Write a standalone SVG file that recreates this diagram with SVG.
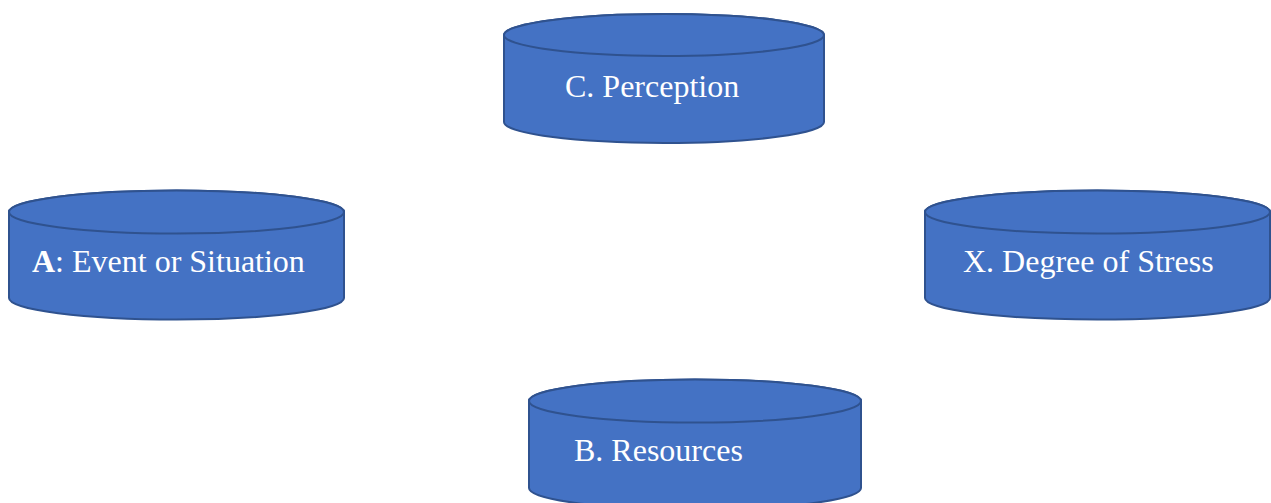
<svg xmlns="http://www.w3.org/2000/svg" width="1271" height="503" viewBox="0 0 1271 503">
<style>
.cyl{fill:#4472C4;stroke:#2F528F;stroke-width:2}
.lbl{fill:#FFFFFF;font-family:"Liberation Serif","Times New Roman",serif;font-size:32px}
</style>
<rect width="1271" height="503" fill="#FFFFFF"/>
<g id="connectors"></g>
<g id="nodeC">
<path class="cyl" d="M504,35 L504,122 A160,21 0 0 0 824,122 L824,35 A160,21 0 0 0 504,35 Z"/>
<ellipse class="cyl" cx="664" cy="35" rx="160" ry="21"/>
<text class="lbl" x="565" y="97">C. Perception</text>
</g>
<g id="nodeA">
<path class="cyl" d="M9,212 L9,298 A167.5,21.5 0 0 0 344,298 L344,212 A167.5,21.5 0 0 0 9,212 Z"/>
<ellipse class="cyl" cx="176.5" cy="212" rx="167.5" ry="21.5"/>
<text class="lbl" x="32" y="272"><tspan font-weight="bold">A</tspan>: Event or Situation</text>
</g>
<g id="nodeX">
<path class="cyl" d="M925,212 L925,298 A172.5,21.5 0 0 0 1270,298 L1270,212 A172.5,21.5 0 0 0 925,212 Z"/>
<ellipse class="cyl" cx="1097.5" cy="212" rx="172.5" ry="21.5"/>
<text class="lbl" x="963" y="272">X. Degree of Stress</text>
</g>
<g id="nodeB">
<path class="cyl" d="M529,401 L529,488 A166,21.5 0 0 0 861,488 L861,401 A166,21.5 0 0 0 529,401 Z"/>
<ellipse class="cyl" cx="695" cy="401" rx="166" ry="21.5"/>
<text class="lbl" x="574" y="461">B. Resources</text>
</g>
</svg>
